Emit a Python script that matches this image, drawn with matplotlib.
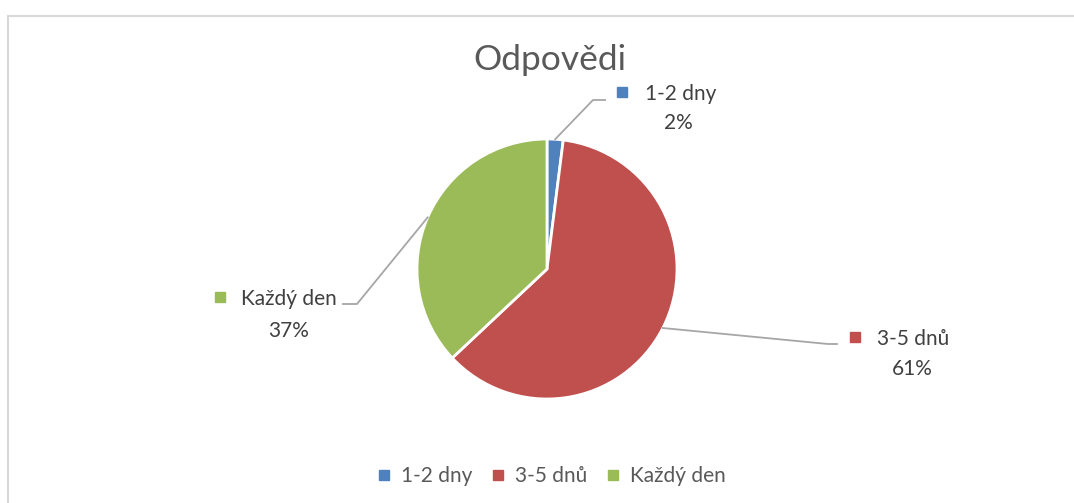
import numpy as np
import matplotlib.pyplot as plt
from matplotlib.patches import Rectangle
from matplotlib.lines import Line2D

plt.rcParams['font.family'] = ['Lato', 'DejaVu Sans']

labels = ['1-2 dny', '3-5 dnů', 'Každý den']
values = [2, 61, 37]
colors = ['#4F81BD', '#C0504D', '#9BBB59']
title = 'Odpovědi'

W, H = 1074, 503
fig = plt.figure(figsize=(W / 100, H / 100), dpi=100)
ax = fig.add_axes([0, 0, 1, 1])

# chart frame (only top/left visible in the crop)
fig.patches.append(Rectangle((8 / W, -0.1), 1.2, (H - 16) / H + 0.1, transform=fig.transFigure,
                             fill=False, edgecolor='#d9d9d9', linewidth=1.5))

cx, cy, r = 547, H - 269, 130
wedges, _ = ax.pie(values, colors=colors, startangle=90, counterclock=False,
                   center=(cx, cy), radius=r,
                   wedgeprops=dict(edgecolor='white', linewidth=2))
ax.set_xlim(0, W)
ax.set_ylim(0, H)
ax.set_aspect('equal')
ax.axis('off')

ax.text(cx + 3, H - 60, title, ha='center', va='center', fontsize=25.5, color='#595959')

# label layout: elbow point, end point, square position, text centre (pixels from top-left)
layout = [
    dict(elbow=(593, 100), end=(605, 100), sq=(622, 92), txt=(681, 94), pct=(678, 123)),
    dict(elbow=(828, 344), end=(837, 344), sq=(855, 337), txt=(913, 339), pct=(912, 369)),
    dict(elbow=(357, 304), end=(343, 304), sq=(220, 297), txt=(289, 299), pct=(289, 331)),
]

total = sum(values)
start = 90.0
for v, c, lab, lo in zip(values, colors, labels, layout):
    sweep = 360.0 * v / total
    mid = np.deg2rad(start - sweep / 2)
    start -= sweep
    px, py = cx + r * np.cos(mid), cy + r * np.sin(mid)
    xs = [px, lo['elbow'][0], lo['end'][0]]
    ys = [py, H - lo['elbow'][1], H - lo['end'][1]]
    ax.plot(xs, ys, color='#a6a6a6', linewidth=1.3)
    ax.plot(lo['sq'][0], H - lo['sq'][1], marker='s', markersize=6.5, color=c, linestyle='none')
    ax.text(lo['txt'][0], H - lo['txt'][1], lab, ha='center', va='center', fontsize=15, color='#404040')
    ax.text(lo['pct'][0], H - lo['pct'][1], f'{v}%', ha='center', va='center', fontsize=15, color='#404040')

handles = [Line2D([], [], marker='s', linestyle='none', color=c, markersize=6.5) for c in colors]
fig.legend(handles, labels, loc='center', bbox_to_anchor=(552 / W, 1 - 476 / H), ncol=3,
           frameon=False, fontsize=15, labelcolor='#595959', handlelength=0.55, handletextpad=0.5,
           columnspacing=1.0)

fig.savefig('out.png', dpi=100)
